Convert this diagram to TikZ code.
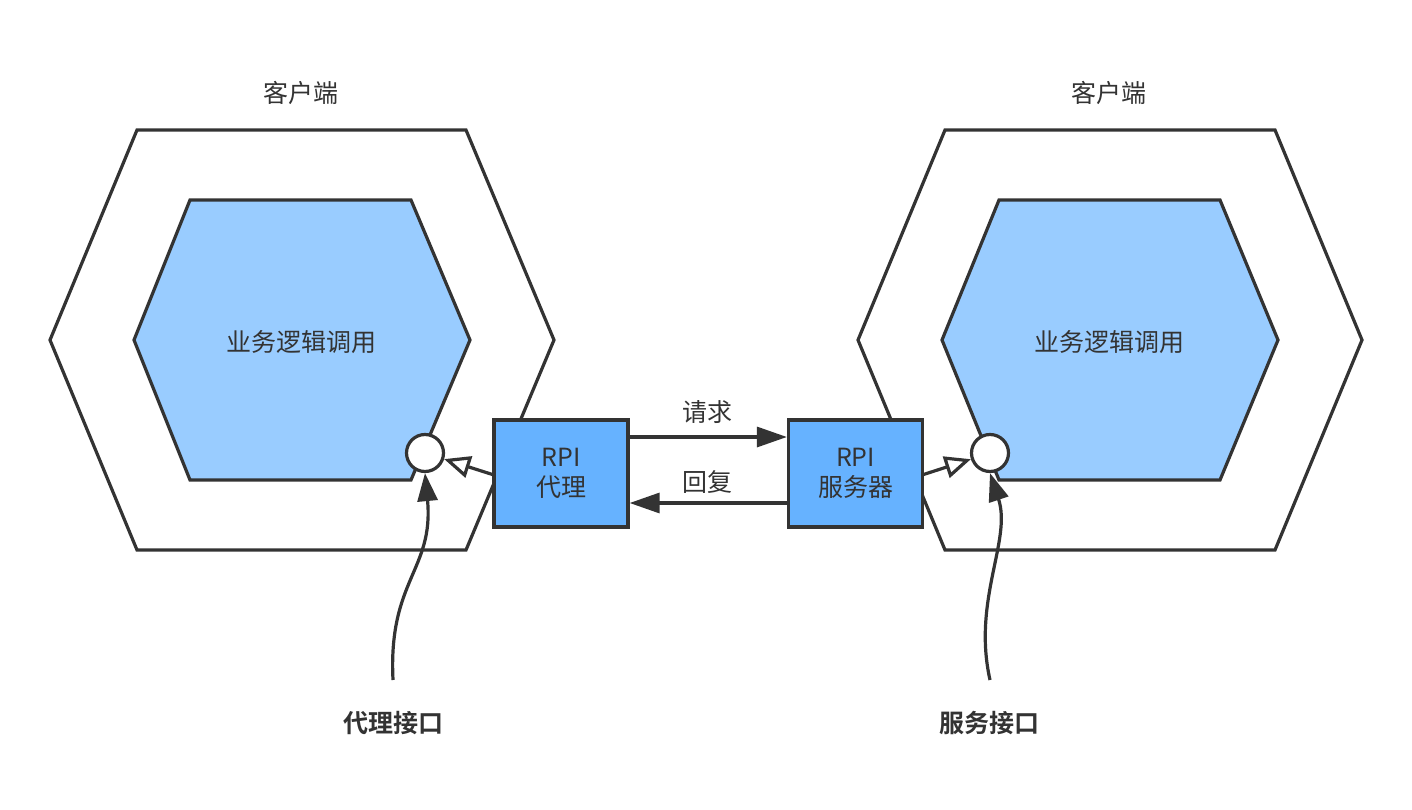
\documentclass[tikz,border=0pt]{standalone}
\usepackage{fontspec}
\setmainfont{Noto Sans CJK SC}[BoldFont={Noto Sans CJK SC Bold}]
\usetikzlibrary{arrows.meta}
\definecolor{ink}{HTML}{333333}
\definecolor{innerblue}{HTML}{99CCFF}
\definecolor{boxblue}{HTML}{66B2FF}
\begin{document}
\begin{tikzpicture}[x=1pt,y=-1pt,
  line/.style={draw=ink,line width=3.2pt,line join=miter},
  outerhex/.style={line,fill=white},
  innerhex/.style={line,fill=innerblue},
  rpibox/.style={line,fill=boxblue,minimum width=134pt,minimum height=107pt,inner sep=0pt,align=center,font=\fontsize{25}{30}\selectfont,text=ink},
  port/.style={circle,line,fill=white,minimum size=37pt,inner sep=0pt},
  lbl/.style={text=ink,font=\fontsize{25}{30}\selectfont,inner sep=0pt},
  blbl/.style={text=ink,font=\fontsize{25}{30}\selectfont\bfseries,inner sep=0pt},
  msg/.style={line,-{Triangle[length=30pt,width=20pt]}},
  prov/.style={line,-{Triangle[open,length=26pt,width=22pt,fill=white]}},
  req/.style={line,-{Triangle[length=28pt,width=20pt]}}
]
\useasboundingbox (0,0) rectangle (1412,810);
% left side
\draw[outerhex] (137,130) -- (466,130) -- (554,340) -- (466,550) -- (137,550) -- (50,340) -- cycle;
\draw[innerhex] (190,200) -- (411,200) -- (470,340) -- (411,480) -- (190,480) -- (134,340) -- cycle;
% right side
\draw[outerhex] (945,130) -- (1275,130) -- (1362,340) -- (1275,550) -- (945,550) -- (858,340) -- cycle;
\draw[innerhex] (999,200) -- (1220,200) -- (1278,340) -- (1220,480) -- (999,480) -- (942,340) -- cycle;
% labels
\node[lbl] (cl) at (301,93) {客户端};
\node[lbl] (cr) at (1109,93) {客户端};
\node[lbl] (bl) at (301,342) {业务逻辑调用};
\node[lbl] (br) at (1109,342) {业务逻辑调用};
% boxes
\node[rpibox] (proxy) at (561,473.5) {RPI\\代理};
\node[rpibox] (server) at (855.5,473.5) {RPI\\服务器};
% ports
\node[port] (pl) at (425,453) {};
\node[port] (pr) at (990,453) {};
% messages
\draw[msg] ([yshift=36.5pt]proxy.east) -- ([yshift=36.5pt]server.west);
\draw[msg] ([yshift=-29.5pt]server.west) -- ([yshift=-29.5pt]proxy.east);
\node[lbl] (rq) at (707,412) {请求};
\node[lbl] (rp) at (707,482) {回复};
% provided interfaces
\coordinate (pls) at (494,475);
\coordinate (prs) at (922,475);
\draw[prov] (pls) -- (pl);
\draw[prov] (prs) -- (pr);
% bottom labels and curves
\node[blbl] (il) at (393,723) {代理接口};
\node[blbl] (ir) at (989,723) {服务接口};
\coordinate (ils) at (393,680);
\coordinate (irs) at (990,680);
\draw[req] (ils) .. controls (388,580) and (434,570) .. (pl.south);
\draw[req] (irs) .. controls (972,600) and (1012,540) .. (pr.south);
\end{tikzpicture}
\end{document}
